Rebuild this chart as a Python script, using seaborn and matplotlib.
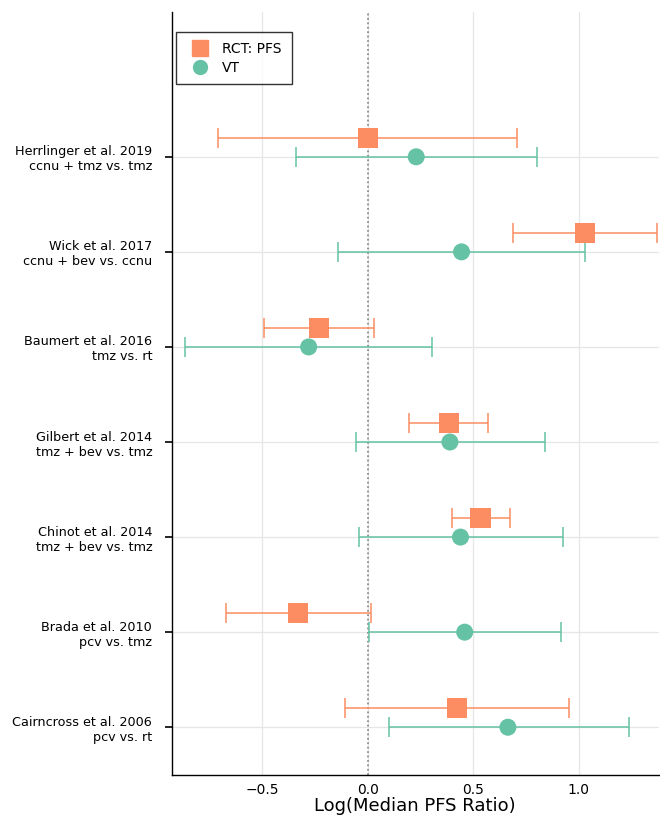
import numpy as np
import pandas as pd
import matplotlib
matplotlib.use("Agg")
import matplotlib.pyplot as plt
import seaborn as sns
from matplotlib.lines import Line2D

# Estudos (de cima para baixo)
studies = [
    "Herrlinger et al. 2019\nccnu + tmz vs. tmz",
    "Wick et al. 2017\nccnu + bev vs. ccnu",
    "Baumert et al. 2016\ntmz vs. rt",
    "Gilbert et al. 2014\ntmz + bev vs. tmz",
    "Chinot et al. 2014\ntmz + bev vs. tmz",
    "Brada et al. 2010\npcv vs. tmz",
    "Cairncross et al. 2006\npcv vs. rt",
]

# RCT: PFS
rct_est = [0.00, 1.03, -0.23, 0.385, 0.535, -0.33, 0.425]
rct_lo = [-0.71, 0.69, -0.49, 0.195, 0.40, -0.67, -0.11]
rct_hi = [0.71, 1.37, 0.03, 0.57, 0.675, 0.015, 0.955]

# VT
vt_est = [0.23, 0.445, -0.28, 0.39, 0.44, 0.46, 0.665]
vt_lo = [-0.34, -0.14, -0.865, -0.055, -0.04, 0.005, 0.10]
vt_hi = [0.805, 1.03, 0.305, 0.84, 0.925, 0.915, 1.24]

colors = {"RCT: PFS": "#fc8d62", "VT": "#66c2a5"}
offset = 0.2

n = len(studies)
ypos = np.arange(n, 0, -1)  # Herrlinger no topo

df = pd.concat([
    pd.DataFrame({"estudo": studies, "y": ypos + offset, "est": rct_est,
                  "lo": rct_lo, "hi": rct_hi, "grupo": "RCT: PFS"}),
    pd.DataFrame({"estudo": studies, "y": ypos, "est": vt_est,
                  "lo": vt_lo, "hi": vt_hi, "grupo": "VT"}),
], ignore_index=True)

sns.set_style("white")
plt.rcParams['font.family'] = ['DejaVu Sans']
plt.rcParams['text.color'] = 'black'
plt.rcParams['xtick.color'] = 'black'
plt.rcParams['ytick.color'] = 'black'
plt.rcParams['axes.labelcolor'] = 'black'

fig = plt.figure(figsize=(6.6, 8.19), dpi=100)
ax = fig.add_axes([0.26, 0.054, 0.738, 0.931])

# barras de erro
for g, sub in df.groupby("grupo"):
    ax.errorbar(sub["est"], sub["y"],
                xerr=[sub["est"] - sub["lo"], sub["hi"] - sub["est"]],
                fmt="none", ecolor=colors[g], elinewidth=1.3, capsize=7,
                capthick=1.3, alpha=0.85, zorder=2)

sns.scatterplot(data=df, x="est", y="y", hue="grupo", style="grupo",
                markers={"RCT: PFS": "s", "VT": "o"},
                palette=colors, size="grupo",
                sizes={"RCT: PFS": 210, "VT": 150},
                linewidth=0, ax=ax, zorder=3, legend=False)

ax.axvline(0, color="gray", linestyle=":", linewidth=1.2, zorder=1)

ax.set_xlim(-0.93, 1.38)
ax.set_ylim(0.5, 8.52)
ax.set_xticks([-0.5, 0.0, 0.5, 1.0])
ax.set_xticklabels(["\u22120.5", "0.0", "0.5", "1.0"], fontsize=10)
ax.set_yticks(ypos)
ax.set_yticklabels(studies, fontsize=9.2, ha="right")
ax.grid(True, color="#e6e6e6", linewidth=0.9)
ax.set_axisbelow(True)
ax.tick_params(axis="y", left=True, length=5, width=1.2, direction="out",
               color="black", pad=9)
ax.tick_params(axis="x", bottom=False, length=0, pad=6)
for s in ["top", "right"]:
    ax.spines[s].set_visible(False)
for s in ["left", "bottom"]:
    ax.spines[s].set_color("black")
    ax.spines[s].set_linewidth(1.0)

ax.set_xlabel("Log(Median PFS Ratio)", fontsize=13, labelpad=0)
ax.set_ylabel("")

handles = [
    Line2D([], [], marker="s", color=colors["RCT: PFS"], linestyle="none", markersize=12),
    Line2D([], [], marker="o", color=colors["VT"], linestyle="none", markersize=10),
]
leg = ax.legend(handles, ["RCT: PFS", "VT"], loc="upper left",
                bbox_to_anchor=(0.01, 0.974), borderaxespad=0, fontsize=10,
                frameon=True, fancybox=False, edgecolor="black",
                borderpad=0.7, handletextpad=0.6, labelspacing=0.35)
leg.get_frame().set_linewidth(1.0)

plt.savefig("out.png", dpi=100)
